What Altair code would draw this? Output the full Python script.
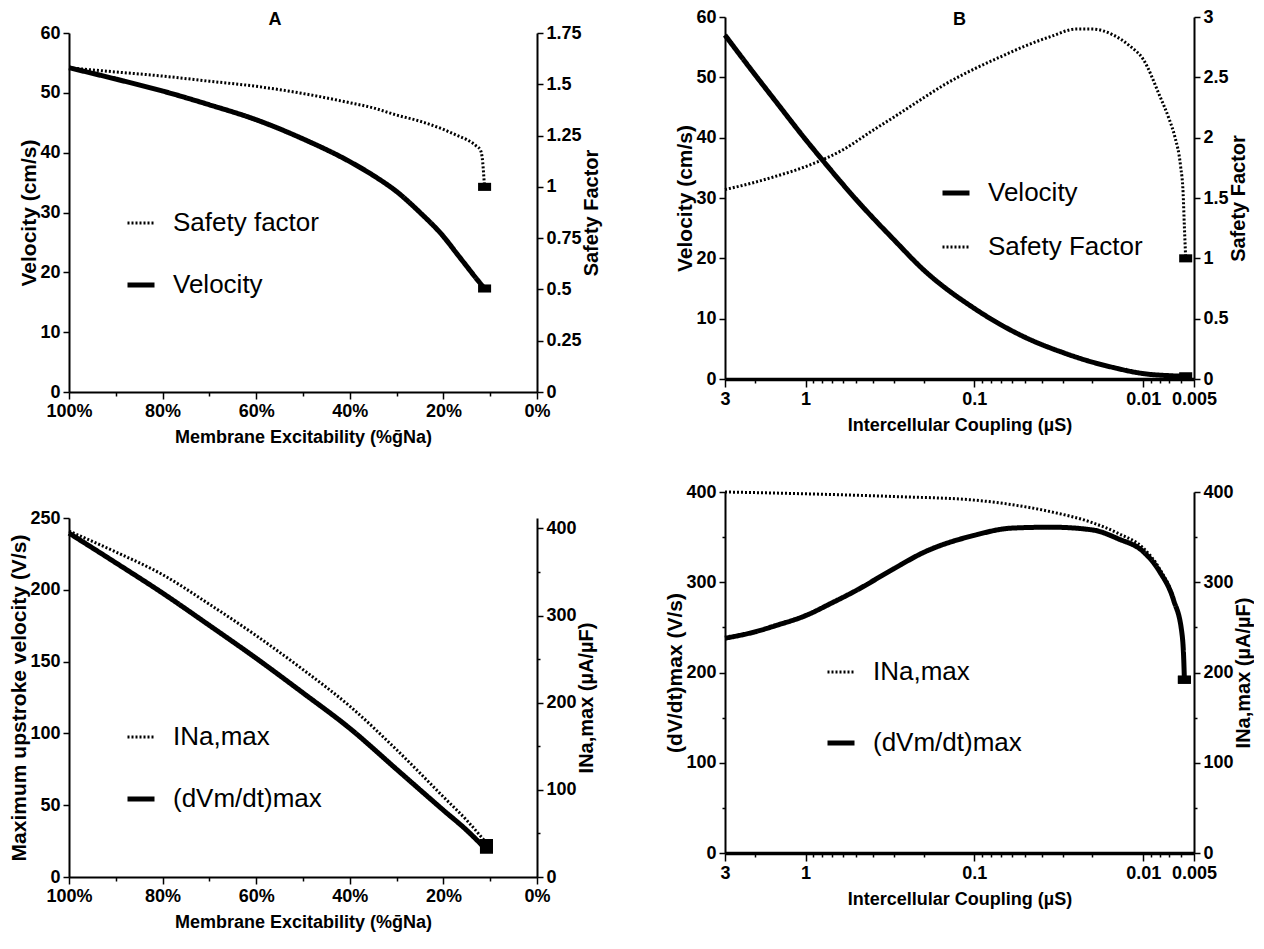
import altair as alt
import pandas as pd

FONT = "Liberation Sans Narrow, Liberation Sans, Arial, sans-serif"
BOLD = "Liberation Sans, Arial, sans-serif"

# ---------- Panel A : membrane excitability ----------
a_x_vel = [100, 90, 80, 70, 60, 50, 40, 35, 30, 25, 20, 17, 15, 13, 11.2]
a_velocity = [54.2, 52.3, 50.3, 48.0, 45.5, 42.3, 38.5, 36.2, 33.5, 30.0, 26.0, 23.0, 21.0, 19.0, 17.3]
a_x_sf = [100, 90, 80, 70, 60, 50, 40, 35, 30, 25, 20, 17, 15, 13, 12.1, 11.6, 11.3, 11.2]
a_safety = [1.58, 1.56, 1.54, 1.515, 1.49, 1.455, 1.41, 1.385, 1.35, 1.32, 1.28, 1.25, 1.23, 1.20, 1.18, 1.12, 1.03, 1.0]

# ---------- Panel B : intercellular coupling ----------
b_x_vel = [3, 2, 1.5, 1, 0.8, 0.5, 0.3, 0.2, 0.1, 0.05, 0.03, 0.02, 0.015, 0.01, 0.007, 0.0056]
b_velocity = [57.0, 50.5, 46.0, 39.7, 36.4, 29.7, 23.1, 18.1, 11.7, 6.9, 4.4, 2.8, 1.9, 0.9, 0.55, 0.45]
b_x_sf = [3, 2, 1.5, 1, 0.6, 0.4, 0.3, 0.2, 0.15, 0.1, 0.07, 0.05, 0.035, 0.025, 0.02, 0.015,
          0.012, 0.01, 0.008, 0.007, 0.0065, 0.006, 0.0058, 0.0057, 0.0056]
b_safety = [1.57, 1.63, 1.68, 1.76, 1.90, 2.06, 2.17, 2.33, 2.44, 2.57, 2.67, 2.76, 2.84, 2.90, 2.90, 2.85,
            2.76, 2.65, 2.35, 2.15, 2.01, 1.76, 1.54, 1.26, 1.0]

# ---------- Panel C : membrane excitability ----------
c_x = [100, 90, 80, 70, 60, 50, 40, 30, 20, 15, 10.8]
c_dvdt = [239.5, 218.8, 197.7, 175.2, 152.3, 128.2, 103.5, 75.0, 46.5, 32.5, 19.0]
c_ina = [397, 373, 347, 313, 277, 238, 196, 146, 92, 65, 39]

# ---------- Panel D : intercellular coupling ----------
d_x_dvdt = [3, 2, 1.5, 1, 0.7, 0.5, 0.3, 0.2, 0.1, 0.06, 0.035, 0.02, 0.014, 0.01, 0.008, 0.0066,
            0.0059, 0.00575, 0.0057]
d_dvdt = [238, 245, 252, 263, 277, 291, 315, 333, 352, 360, 361, 358, 348, 334, 312, 280, 244, 214, 192]
d_x_ina = [3, 1, 0.3, 0.1, 0.06, 0.035, 0.02, 0.014, 0.01, 0.008, 0.0066, 0.0059, 0.00575, 0.0057]
d_ina = [400, 398, 395, 391, 386, 378, 366, 354, 338, 315, 282, 245, 214, 192]

# ---------- tick values / labels ----------
pct_ticks = [100, 90, 80, 70, 60, 50, 40, 30, 20, 10, 0]
log_ticks = [3, 2, 1, 0.9, 0.8, 0.7, 0.6, 0.5, 0.4, 0.3, 0.2, 0.1, 0.09, 0.08, 0.07, 0.06, 0.05, 0.04,
             0.03, 0.02, 0.01, 0.009, 0.008, 0.007, 0.006, 0.005]
log_major = "indexof([3, 1, 0.1, 0.01, 0.005], datum.value) >= 0"

SQUARE = "M-1,-0.62L1,-0.62L1,0.62L-1,0.62Z"


def tick_size(test, major, minor):
    return {"condition": {"test": test, "value": major}, "value": minor}


def pct_axis():
    test = "datum.value % 20 == 0"
    return alt.Axis(values=pct_ticks, title="Membrane Excitability (%ḡNa)",
                    labelExpr=f"{test} ? datum.value + '%' : ''",
                    tickSize=tick_size(test, 7, 4), titleFontSize=18, titlePadding=8)


def log_axis():
    return alt.Axis(values=log_ticks, title="Intercellular Coupling (µS)",
                    labelExpr=f"{log_major} ? '' + datum.value : ''",
                    tickSize=tick_size(log_major, 8, 4), domainWidth=3.5,
                    titleFontSize=18, titlePadding=8)


def y_axis(title, values, orient="left", every=None):
    kw = dict(values=values, title=title, orient=orient, titlePadding=0)
    if every is not None:
        test = f"datum.value % {every} == 0"
        kw["labelExpr"] = f"{test} ? '' + datum.value : ''"
        kw["tickSize"] = tick_size(test, 6, 3)
    else:
        kw["labelExpr"] = "'' + datum.value"
        kw["tickSize"] = 6
    if orient == "right":
        kw["titleAngle"] = 270
        kw["titleBaseline"] = "top"
        kw["titleFontSize"] = 20
    return alt.Axis(**kw)


def panel(lx, ly, lname, rx, ry, rname, order, x_scale, x_axis,
          yl_scale, yl_axis, yr_scale, yr_axis, legend, width, height, title=None):
    ldf = pd.DataFrame({"x": lx, "y": ly, "series": lname})
    rdf = pd.DataFrame({"x": rx, "y": ry, "series": rname})
    dash = alt.Scale(domain=order, range=[[1, 0] if s == lname else [2, 2] for s in order])
    widths = alt.Scale(domain=order, range=[5 if s == lname else 3 for s in order])
    x = alt.X("x:Q", scale=x_scale, axis=x_axis)

    def line(df, yscale, yaxis):
        return alt.Chart(df).mark_line(color="black", strokeCap="butt", interpolate="monotone").encode(
            x=x,
            y=alt.Y("y:Q", scale=yscale, axis=yaxis),
            strokeDash=alt.StrokeDash("series:N", scale=dash, legend=legend),
            strokeWidth=alt.StrokeWidth("series:N", scale=widths, legend=legend),
        )

    def end(df, yscale, yaxis):
        return alt.Chart(df.tail(1)).mark_point(
            shape=SQUARE, filled=True, size=170, color="black", opacity=1
        ).encode(x=x, y=alt.Y("y:Q", scale=yscale, axis=yaxis))

    left = alt.layer(line(ldf, yl_scale, yl_axis), end(ldf, yl_scale, yl_axis))
    right = alt.layer(line(rdf, yr_scale, yr_axis), end(rdf, yr_scale, yr_axis))
    ch = alt.layer(left, right).resolve_scale(y="independent").properties(width=width, height=height)
    if title is not None:
        ch = ch.properties(title=title)
    return ch


def legend(lx, ly, pad):
    return alt.Legend(orient="none", legendX=lx, legendY=ly, title=None, labelFont=FONT,
                      labelFontSize=26, labelColor="black", symbolType="stroke", symbolSize=729,
                      symbolStrokeColor="black", labelOffset=16, rowPadding=pad, labelLimit=0)


pct_scale = alt.Scale(domain=[0, 100], reverse=True, nice=False)
log_scale = alt.Scale(type="log", domain=[0.005, 3], reverse=True, nice=False)

# panel A sits lower than panel B in the same row
A_H = 375
A_RANGE = [A_H, 16]

A = panel(a_x_vel, a_velocity, "Velocity", a_x_sf, a_safety, "Safety factor",
          ["Safety factor", "Velocity"], pct_scale, pct_axis(),
          alt.Scale(domain=[0, 60], nice=False, range=A_RANGE),
          y_axis("Velocity (cm/s)", list(range(0, 61, 10))),
          alt.Scale(domain=[0, 1.75], nice=False, range=A_RANGE),
          y_axis("Safety Factor", [0, 0.25, 0.5, 0.75, 1, 1.25, 1.5, 1.75], orient="right"),
          legend(56, 191, 33), 468, A_H,
          title=alt.TitleParams("A", font=BOLD, fontSize=18, fontWeight="bold", anchor="middle",
                                dx=-28, offset=0, dy=12, color="black"))

B = panel(b_x_vel, b_velocity, "Velocity", b_x_sf, b_safety, "Safety Factor",
          ["Velocity", "Safety Factor"], log_scale, log_axis(),
          alt.Scale(domain=[0, 60], nice=False), y_axis("Velocity (cm/s)", list(range(0, 61, 10))),
          alt.Scale(domain=[0, 3], nice=False),
          y_axis("Safety Factor", [0, 0.5, 1, 1.5, 2, 2.5, 3], orient="right"),
          legend(215, 160, 26), 469, 362,
          title=alt.TitleParams("B", font=BOLD, fontSize=18, fontWeight="bold", anchor="middle",
                                offset=0, dy=21, color="black"))

C = panel(c_x, c_dvdt, "(dVm/dt)max", c_x, c_ina, "INa,max",
          ["INa,max", "(dVm/dt)max"], pct_scale, pct_axis(),
          alt.Scale(domain=[0, 250], nice=False),
          y_axis("Maximum upstroke velocity (V/s)", list(range(0, 251, 50))),
          alt.Scale(domain=[0, 412], nice=False),
          y_axis("INa,max (µA/µF)", list(range(0, 401, 50)), orient="right", every=100),
          legend(56, 204, 33), 468, 359)

D = panel(d_x_dvdt, d_dvdt, "(dVm/dt)max", d_x_ina, d_ina, "INa,max",
          ["INa,max", "(dVm/dt)max"], log_scale, log_axis(),
          alt.Scale(domain=[0, 400], nice=False),
          y_axis("(dV/dt)max (V/s)", list(range(0, 401, 50)), every=100),
          alt.Scale(domain=[0, 400], nice=False),
          y_axis("INa,max (µA/µF)", list(range(0, 401, 50)), orient="right", every=100),
          legend(100, 165, 42), 469, 361)

RES = dict(strokeDash="independent", strokeWidth="independent")

col1 = alt.vconcat(A, C, spacing=63).resolve_scale(**RES).resolve_legend(**RES)
col2 = alt.vconcat(B, D, spacing=49).resolve_scale(**RES).resolve_legend(**RES)

chart = (
    alt.hconcat(col1, col2, spacing=62)
    .resolve_scale(**RES)
    .resolve_legend(**RES)
    .properties(background="white", padding={"left": 0, "top": 0, "right": 0, "bottom": 5})
    .configure_view(stroke=None)
    .configure_axis(
        domainColor="black", tickColor="black", labelColor="black", titleColor="black",
        labelFont=FONT, titleFont=FONT, labelFontSize=18, titleFontSize=21,
        labelFontWeight="bold", titleFontWeight="bold", grid=False, domainWidth=2, tickWidth=1.5,
        labelFlush=False, labelOverlap=False, labelPadding=3,
    )
)

chart.save("out.html", embed_options={"renderer": "svg", "actions": False})
